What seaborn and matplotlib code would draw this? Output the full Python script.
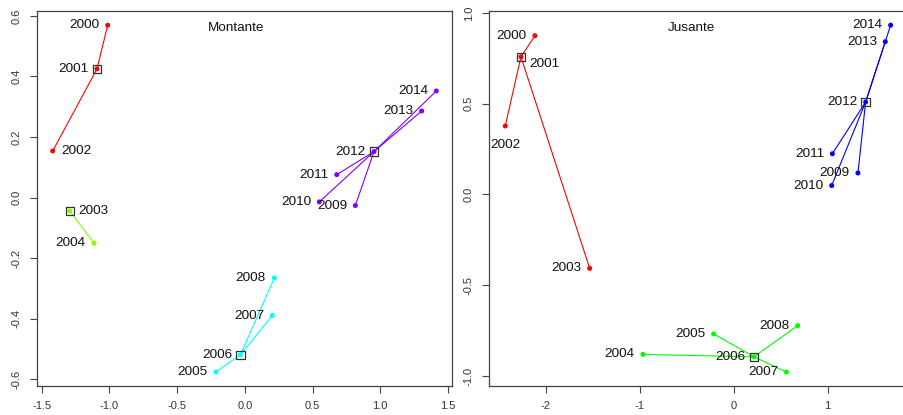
import matplotlib
matplotlib.use("Agg")
import matplotlib.pyplot as plt
import seaborn as sns
import pandas as pd

# ---- data -------------------------------------------------------------
years = [2000, 2001, 2002, 2003, 2004, 2005, 2006, 2007,
         2008, 2009, 2010, 2011, 2012, 2013, 2014]

# Montante (upstream)
mont_x = [-1.013, -1.092, -1.419, -1.293, -1.114, -0.213, -0.033, 0.203,
          0.218, 0.816, 0.550, 0.679, 0.954, 1.306, 1.414]
mont_y = [0.569, 0.425, 0.154, -0.044, -0.150, -0.575, -0.519, -0.389,
          -0.265, -0.026, -0.014, 0.076, 0.152, 0.286, 0.352]
mont_group = [1, 1, 1, 2, 2, 3, 3, 3, 3, 4, 4, 4, 4, 4, 4]
mont_centers = {1: 2001, 2: 2003, 3: 2006, 4: 2012}
mont_colors = {1: "#FF0000", 2: "#80FF00", 3: "#00FFFF", 4: "#8000FF"}

# Jusante (downstream)
jus_x = [-2.114, -2.263, -2.430, -1.532, -0.965, -0.213, 0.216, 0.560,
         0.681, 1.322, 1.043, 1.050, 1.404, 1.613, 1.670]
jus_y = [0.874, 0.758, 0.377, -0.407, -0.881, -0.768, -0.894, -0.978,
         -0.722, 0.118, 0.049, 0.224, 0.509, 0.841, 0.932]
jus_group = [1, 1, 1, 1, 2, 2, 2, 2, 2, 3, 3, 3, 3, 3, 3]
jus_centers = {1: 2001, 2: 2006, 3: 2012}
jus_colors = {1: "#FF0000", 2: "#00FF00", 3: "#0000FF"}

# label placement around each point
mont_label_pos = {2002: "right", 2003: "right"}
jus_label_pos = {2001: "rightbelow", 2002: "below"}

# ---- style ------------------------------------------------------------
sns.set_theme(style="ticks")
plt.rcParams["font.family"] = ["Liberation Sans", "DejaVu Sans"]
plt.rcParams["axes.unicode_minus"] = False

fig = plt.figure(figsize=(9.04, 4.15), dpi=100)
W, H = 904, 415
axes_px = [(37, 452), (489, 910)]
top_px, bot_px = 11, 385.5


def panel(ax, xs, ys, groups, centers, colors, label_pos, title,
          xlim, ylim, xticks, yticks, xfmt, yfmt):
    df = pd.DataFrame({"year": years, "x": xs, "y": ys, "group": groups})
    pos = df.set_index("year")
    # star segments from each group's central year to its members
    for g, cy in centers.items():
        cx0, cy0 = pos.loc[cy, "x"], pos.loc[cy, "y"]
        members = df[(df.group == g) & (df.year != cy)]
        for x1, y1 in zip(members.x, members.y):
            ax.plot([cx0, x1], [cy0, y1], color=colors[g], lw=0.8,
                    zorder=2)
    sns.scatterplot(data=df, x="x", y="y", hue="group", palette=colors,
                    s=13, linewidth=0, legend=False, ax=ax, zorder=3)
    cdf = df[df.year.isin(list(centers.values()))]
    sns.scatterplot(data=cdf, x="x", y="y", marker="s", s=36,
                    facecolor="none", edgecolor="#333333", linewidth=0.9,
                    legend=False, ax=ax, zorder=4)
    for yr, x, y in zip(df.year, df.x, df.y):
        where = label_pos.get(yr, "left")
        if where == "left":
            kw = dict(xytext=(-6, 0), ha="right", va="center")
        elif where == "right":
            kw = dict(xytext=(6, 0), ha="left", va="center")
        elif where == "below":
            kw = dict(xytext=(0, -14), ha="center", va="center")
        else:
            kw = dict(xytext=(6, -5), ha="left", va="center")
        ax.annotate(str(int(yr)), (x, y), textcoords="offset points",
                    fontsize=9.7, color="#111111", **kw)
    ax.text(0.48, 0.955, title, transform=ax.transAxes, ha="center",
            va="center", fontsize=9.7, color="#111111")
    ax.set_xlim(*xlim)
    ax.set_ylim(*ylim)
    ax.set_xticks(xticks)
    ax.set_xticklabels([xfmt.format(v) for v in xticks])
    ax.set_yticks(yticks)
    ax.set_yticklabels([yfmt.format(v) for v in yticks], rotation=90,
                       va="center")
    ax.set_xlabel("")
    ax.set_ylabel("")
    for s in ax.spines.values():
        s.set_visible(True)
        s.set_color("#444444")
        s.set_linewidth(0.9)
    ax.tick_params(direction="out", length=5, width=0.8, color="#444444",
                   labelsize=8, labelcolor="#333333", pad=6)


for i, (l, r) in enumerate(axes_px):
    ax = fig.add_axes([l / W, 1 - bot_px / H, (r - l) / W,
                       (bot_px - top_px) / H])
    if i == 0:
        panel(ax, mont_x, mont_y, mont_group, mont_centers, mont_colors,
              mont_label_pos, "Montante", (-1.535, 1.53), (-0.62, 0.616),
              [-1.5, -1.0, -0.5, 0.0, 0.5, 1.0, 1.5],
              [-0.6, -0.4, -0.2, 0.0, 0.2, 0.4, 0.6], "{:.1f}", "{:.1f}")
    else:
        panel(ax, jus_x, jus_y, jus_group, jus_centers, jus_colors,
              jus_label_pos, "Jusante", (-2.603, 1.876), (-1.052, 1.01),
              [-2, -1, 0, 1], [-1.0, -0.5, 0.0, 0.5, 1.0], "{:d}", "{:.1f}")

fig.savefig("out.png", dpi=100)
